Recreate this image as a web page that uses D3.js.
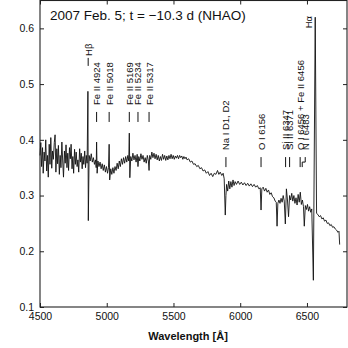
<!DOCTYPE html>
<html>
<head>
<meta charset="utf-8">
<script src="https://cdn.jsdelivr.net/npm/d3@7"></script>
<style>
  body { margin: 0; background: #fff; }
  svg { display: block; font-family: "Liberation Sans", Arial, sans-serif; }
</style>
</head>
<body>
<div class="canvas"></div>
<script>
const title = '2007 Feb. 5; t = \u221210.3 d (NHAO)';
const xTicks = [4500, 5000, 5500, 6000, 6500];
const yTicks = [0.1, 0.2, 0.3, 0.4, 0.5, 0.6];

// [wavelength, flux]
const spectrum = [
    [4500, 0.372], [4506, 0.395], [4512, 0.352], [4519, 0.386], [4524, 0.340],
    [4531, 0.378], [4537, 0.362], [4543, 0.400], [4550, 0.344], [4556, 0.372],
    [4562, 0.333], [4569, 0.392], [4575, 0.356], [4581, 0.404], [4588, 0.349],
    [4594, 0.380], [4600, 0.365], [4607, 0.395], [4613, 0.409], [4619, 0.342],
    [4626, 0.384], [4632, 0.357], [4638, 0.390], [4645, 0.338], [4651, 0.372],
    [4657, 0.350], [4664, 0.396], [4670, 0.362], [4676, 0.333], [4683, 0.380],
    [4689, 0.358], [4695, 0.391], [4702, 0.350], [4708, 0.376], [4714, 0.345],
    [4721, 0.386], [4727, 0.366], [4733, 0.392], [4740, 0.348], [4746, 0.370],
    [4752, 0.340], [4759, 0.383], [4765, 0.356], [4771, 0.378], [4778, 0.352],
    [4784, 0.364], [4790, 0.342], [4797, 0.384], [4803, 0.360], [4809, 0.376],
    [4816, 0.348], [4822, 0.370], [4828, 0.356], [4835, 0.380], [4841, 0.350],
    [4847, 0.372], [4853, 0.358],
    [4859, 0.487], [4862, 0.255], [4868, 0.372], [4876, 0.362],
    [4884, 0.375], [4892, 0.360], [4900, 0.368], [4908, 0.356], [4916, 0.364],
    [4921, 0.350], [4924, 0.396], [4928, 0.340], [4934, 0.362], [4942, 0.352],
    [4950, 0.360], [4958, 0.348], [4966, 0.357], [4974, 0.345], [4982, 0.355],
    [4990, 0.342], [4998, 0.352], [5006, 0.340], [5013, 0.350], [5018, 0.392],
    [5022, 0.328], [5030, 0.348], [5038, 0.338], [5046, 0.350], [5054, 0.340],
    [5062, 0.352], [5070, 0.345], [5078, 0.358], [5086, 0.348], [5094, 0.362],
    [5102, 0.352], [5110, 0.366], [5118, 0.356], [5126, 0.368], [5134, 0.358],
    [5142, 0.370], [5150, 0.360], [5158, 0.372], [5165, 0.362], [5169, 0.412],
    [5173, 0.332], [5180, 0.370], [5188, 0.362], [5196, 0.376], [5204, 0.364],
    [5212, 0.372], [5220, 0.360], [5228, 0.374], [5234, 0.352], [5240, 0.370],
    [5248, 0.362], [5256, 0.375], [5264, 0.365], [5272, 0.372], [5280, 0.360],
    [5288, 0.368], [5296, 0.358], [5304, 0.372], [5312, 0.362], [5317, 0.345],
    [5322, 0.372], [5330, 0.365], [5338, 0.378], [5346, 0.368], [5354, 0.376],
    [5362, 0.366], [5370, 0.374], [5378, 0.364], [5386, 0.372], [5394, 0.362],
    [5402, 0.370], [5410, 0.363], [5418, 0.374], [5426, 0.365], [5434, 0.372],
    [5442, 0.363], [5450, 0.371], [5458, 0.364], [5466, 0.372], [5474, 0.366],
    [5482, 0.374], [5490, 0.366], [5498, 0.372], [5506, 0.365], [5514, 0.371],
    [5522, 0.367], [5530, 0.372], [5538, 0.366], [5546, 0.372], [5554, 0.368],
    [5562, 0.371], [5570, 0.365], [5578, 0.370], [5586, 0.366], [5594, 0.369],
    [5602, 0.364], [5614, 0.366], [5626, 0.360], [5638, 0.362], [5650, 0.356],
    [5662, 0.357], [5674, 0.352], [5686, 0.354], [5698, 0.348], [5710, 0.350],
    [5722, 0.344], [5734, 0.346], [5746, 0.340], [5758, 0.343], [5770, 0.336],
    [5782, 0.340], [5794, 0.334], [5806, 0.340], [5818, 0.338], [5830, 0.345],
    [5840, 0.338], [5850, 0.342], [5862, 0.336], [5872, 0.340], [5880, 0.330],
    [5888, 0.265], [5893, 0.300], [5898, 0.320], [5906, 0.308], [5914, 0.326],
    [5922, 0.312], [5930, 0.325], [5938, 0.315], [5946, 0.328], [5954, 0.318],
    [5962, 0.325], [5972, 0.320], [5984, 0.326], [5996, 0.320], [6008, 0.324],
    [6020, 0.319], [6032, 0.323], [6044, 0.318], [6056, 0.322], [6068, 0.317],
    [6080, 0.321], [6092, 0.316], [6104, 0.320], [6116, 0.315], [6128, 0.318],
    [6140, 0.312], [6150, 0.314], [6156, 0.274], [6162, 0.312], [6172, 0.315],
    [6182, 0.308], [6192, 0.313], [6202, 0.306], [6212, 0.310], [6222, 0.302],
    [6232, 0.305], [6242, 0.298], [6252, 0.296], [6262, 0.290], [6270, 0.288],
    [6276, 0.245], [6282, 0.286], [6290, 0.292], [6298, 0.286], [6306, 0.295],
    [6314, 0.288], [6322, 0.300], [6330, 0.290], [6338, 0.249], [6346, 0.312],
    [6354, 0.292], [6362, 0.262], [6370, 0.300], [6378, 0.292], [6386, 0.304],
    [6394, 0.290], [6402, 0.300], [6410, 0.286], [6418, 0.296], [6426, 0.283],
    [6434, 0.302], [6442, 0.288], [6450, 0.306], [6458, 0.284], [6466, 0.292],
    [6474, 0.280], [6480, 0.245], [6488, 0.282], [6496, 0.275], [6504, 0.284],
    [6512, 0.272], [6520, 0.280], [6528, 0.270], [6536, 0.276], [6548, 0.148],
    [6562, 0.620], [6572, 0.268], [6582, 0.266], [6592, 0.262], [6602, 0.264],
    [6612, 0.258], [6622, 0.260], [6632, 0.254], [6642, 0.256], [6652, 0.250],
    [6662, 0.251], [6672, 0.246], [6682, 0.248], [6692, 0.243], [6702, 0.244],
    [6712, 0.240], [6722, 0.238], [6732, 0.234], [6740, 0.236], [6745, 0.212]
];

// line identifications: label, wavelength, flux level where the marker starts
const lineIds = [
    { label: 'H\u03b2', wl: 4861, at: 0.547 },
    { label: 'Fe II 4924', wl: 4924, at: 0.450 },
    { label: 'Fe II 5018', wl: 5018, at: 0.450 },
    { label: 'Fe II 5169', wl: 5169, at: 0.450 },
    { label: 'Fe II 5234', wl: 5234, at: 0.450 },
    { label: 'Fe II 5317', wl: 5317, at: 0.450 },
    { label: 'Na I D1, D2', wl: 5893, at: 0.369 },
    { label: 'O I 6156', wl: 6156, at: 0.369 },
    { label: 'Si II 6347', wl: 6340, at: 0.369 },
    { label: 'Si II 6371', wl: 6370, at: 0.369 },
    { label: 'O I 6456 + Fe II 6456', wl: 6449, at: 0.369 },
    { label: 'N I 6483', wl: 6487, at: 0.369 }
];
const haLabel = { label: 'H\u03b1', wl: 6515, at: 0.600 };

const width = 348;
const height = 348;
const margin = { top: 0.5, right: 1, bottom: 41, left: 40 };

const svg = d3.select('.canvas')
    .append('svg')
    .attr('width', width)
    .attr('height', height)
;

const x = d3.scaleLinear().domain([4500, 6800]).range([margin.left, width - margin.right]);
const y = d3.scaleLinear().domain([0.1, 0.65]).range([height - margin.bottom, margin.top]);

// axes (ticks point inward)
const xAxis = d3.axisBottom(x).tickValues(xTicks).tickSizeInner(-4).tickSizeOuter(0).tickPadding(6)
    .tickFormat(d3.format('d'));
const yAxis = d3.axisLeft(y).tickValues(yTicks).tickSizeInner(-4).tickSizeOuter(0).tickPadding(6)
    .tickFormat(d3.format('.1f'));
const xTop = d3.axisTop(x).tickValues(xTicks).tickSizeInner(-4).tickSizeOuter(0).tickFormat('');
const yRight = d3.axisRight(y).tickValues(yTicks).tickSizeInner(-4).tickSizeOuter(0).tickFormat('');

const axes = [
    [xAxis, `translate(0, ${y(0.1)})`],
    [yAxis, `translate(${x(4500)}, 0)`],
    [xTop, `translate(0, ${y(0.65)})`],
    [yRight, `translate(${x(6800)}, 0)`]
];
axes.forEach(([axis, tr]) => {
    const g = svg.append('g').attr('transform', tr).call(axis);
    g.select('.domain').remove();
    g.selectAll('line').attr('stroke', '#222').attr('stroke-width', 1);
    g.selectAll('text').attr('fill', '#111').style('font-size', '10.5px');
});

// frame
svg.append('rect')
    .attr('x', x(4500))
    .attr('y', y(0.65))
    .attr('width', x(6800) - x(4500))
    .attr('height', y(0.1) - y(0.65))
    .attr('fill', 'none')
    .attr('stroke', '#222')
    .attr('stroke-width', 1.1)
;

// spectrum
const line = d3.line()
    .x(d => x(d[0]))
    .y(d => y(d[1]))
;
svg.append('path')
    .datum(spectrum)
    .attr('fill', 'none')
    .attr('stroke', '#111')
    .attr('stroke-width', 0.9)
    .attr('stroke-linejoin', 'round')
    .attr('d', line)
;

// line identifications
const ids = svg.append('g');
lineIds.forEach(d => {
    const lx = x(d.wl);
    const top = y(d.at);
    const tickLen = d.label === 'H\u03b2' ? 8 : 10;
    const gap = d.label === 'H\u03b2' ? 2 : 7;
    if (d.label === 'N I 6483') {
        ids.append('path')
            .attr('d', `M${lx},${top} V${top + 5} H${lx - 3} V${top + tickLen}`)
            .attr('fill', 'none').attr('stroke', '#111').attr('stroke-width', 1);
    } else {
        ids.append('line')
            .attr('x1', lx).attr('x2', lx)
            .attr('y1', top).attr('y2', top + tickLen)
            .attr('stroke', '#111').attr('stroke-width', 1);
    }
    ids.append('text')
        .attr('transform', `translate(${lx + 3.5}, ${top - gap}) rotate(-90)`)
        .attr('fill', '#111')
        .style('font-size', '9.5px')
        .text(d.label);
});
ids.append('text')
    .attr('transform', `translate(${x(haLabel.wl) + 3.5}, ${y(haLabel.at)}) rotate(-90)`)
    .attr('fill', '#111')
    .style('font-size', '9.5px')
    .text(haLabel.label);

// title and axis label
svg.append('text')
    .attr('x', 50)
    .attr('y', 20)
    .attr('fill', '#111')
    .style('font-size', '13.5px')
    .text(title);

svg.append('text')
    .attr('x', 188)
    .attr('y', 340)
    .attr('text-anchor', 'middle')
    .attr('fill', '#111')
    .style('font-size', '11px')
    .style('font-weight', 'bold')
    .text('Wavelength [\u00c5]');
</script>
</body>
</html>
